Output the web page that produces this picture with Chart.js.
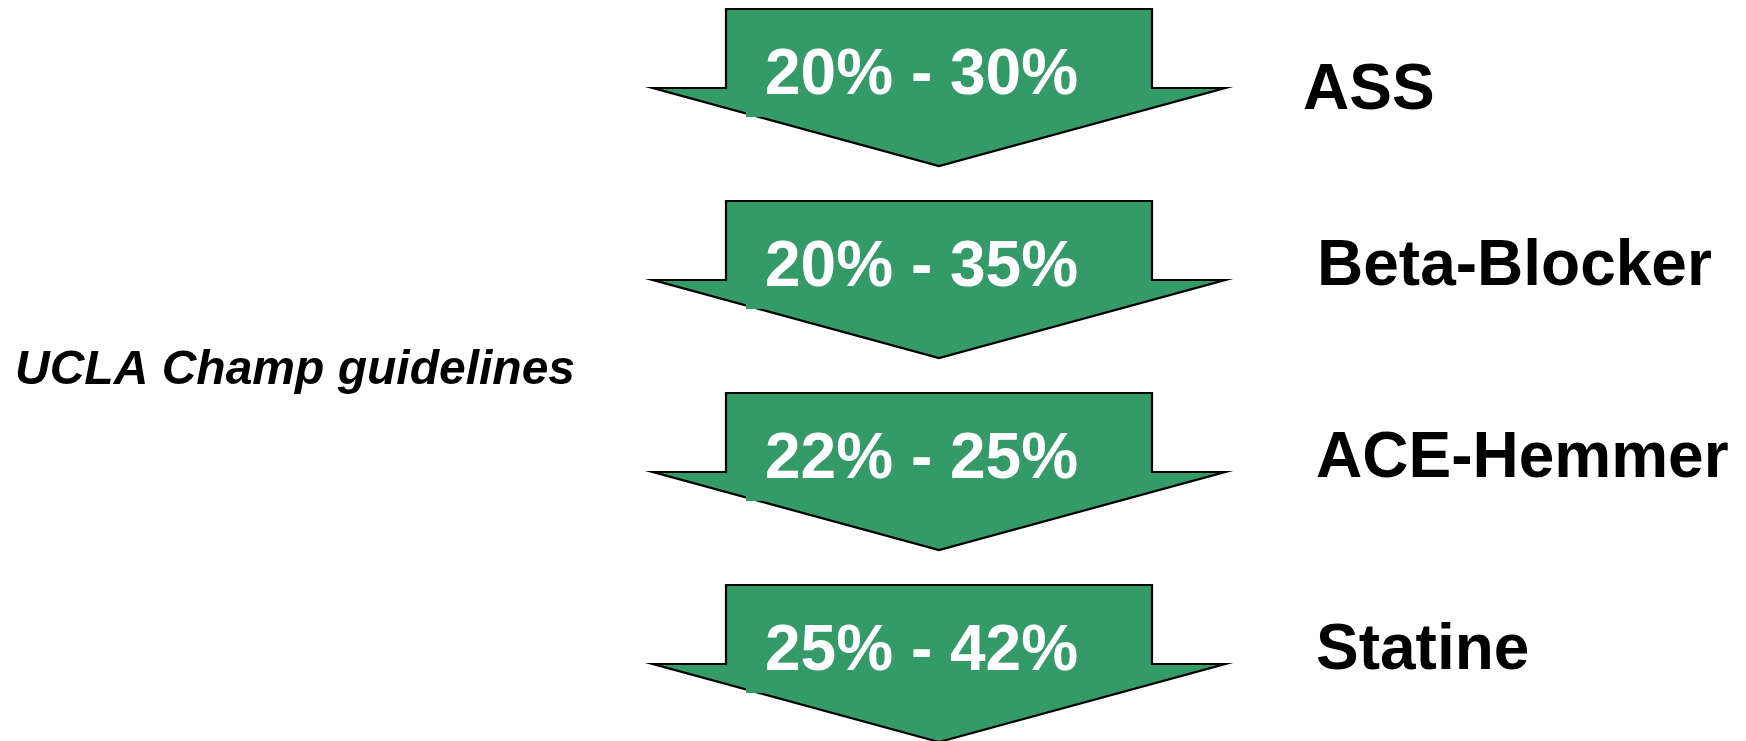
<!DOCTYPE html>
<html>
<head>
<meta charset="utf-8">
<script src="https://cdn.jsdelivr.net/npm/chart.js@4"></script>
<style>
  html, body { margin: 0; padding: 0; background: #fff; }
  #wrap { width: 1746px; height: 741px; }
</style>
</head>
<body>
<div id="wrap"><canvas id="arrowChart" width="1746" height="741"></canvas></div>
<script>
const drugs = ['ASS', 'Beta-Blocker', 'ACE-Hemmer', 'Statine'];
const lowReduction = [20, 20, 22, 25];
const highReduction = [30, 35, 25, 42];
const sourceNote = 'UCLA Champ guidelines';

const arrowColor = '#349a68';

// draws the down arrows, range text and drug names on each row
const arrowsPlugin = {
  id: 'arrows',
  afterDatasetsDraw: (chart) => {
    const { ctx } = chart;
    const meta = chart.getDatasetMeta(0);
    const labelShift = [[-13, 16], [1, 0], [0, 0], [0, 0]];

    ctx.save();
    meta.data.forEach((pt, i) => {
      const cx = pt.x;
      const cy = pt.y;

      ctx.beginPath();
      ctx.moveTo(cx - 213, cy - 79);
      ctx.lineTo(cx + 213, cy - 79);
      ctx.lineTo(cx + 213, cy);
      ctx.lineTo(cx + 286, cy);
      ctx.lineTo(cx, cy + 78);
      ctx.lineTo(cx - 286, cy);
      ctx.lineTo(cx - 213, cy);
      ctx.closePath();
      ctx.fillStyle = arrowColor;
      ctx.fill();
      ctx.lineWidth = 2.2;
      ctx.lineJoin = 'miter';
      ctx.strokeStyle = '#000';
      ctx.stroke();

      // small text-box leftover poking over the edge
      ctx.fillStyle = arrowColor;
      ctx.fillRect(cx - 193, cy + 18, 16, 11);

      ctx.fillStyle = '#fff';
      ctx.font = 'bold 64px "Liberation Sans", Arial, sans-serif';
      ctx.textAlign = 'left';
      ctx.textBaseline = 'alphabetic';
      ctx.fillText(`${lowReduction[i]}% - ${highReduction[i]}%`, cx - 174, cy + 6);

      ctx.fillStyle = '#000';
      ctx.font = 'bold 64px "Liberation Sans", Arial, sans-serif';
      ctx.fillText(drugs[i], cx + 377 + labelShift[i][0], cy + 5 + labelShift[i][1]);
    });

    ctx.fillStyle = '#000';
    ctx.font = 'italic bold 48px "Liberation Sans", Arial, sans-serif';
    ctx.textAlign = 'left';
    ctx.fillText(sourceNote, 15, 384);
    ctx.restore();
  }
};

const chartCtx = document.getElementById('arrowChart').getContext('2d');

new Chart(chartCtx, {
  type: 'scatter',
  data: {
    datasets: [{
      label: 'Risikoreduktion',
      data: drugs.map((d) => ({ x: 939, y: d })),
      pointRadius: 0,
      pointHoverRadius: 0
    }]
  },
  options: {
    responsive: false,
    animation: false,
    layout: { padding: { top: 88, bottom: 77, left: 0, right: 0 } },
    scales: {
      x: { type: 'linear', min: 0, max: 1746, display: false },
      y: { type: 'category', labels: drugs, offset: false, display: false }
    },
    plugins: {
      legend: { display: false },
      tooltip: { enabled: false }
    }
  },
  plugins: [arrowsPlugin]
});
</script>
</body>
</html>
